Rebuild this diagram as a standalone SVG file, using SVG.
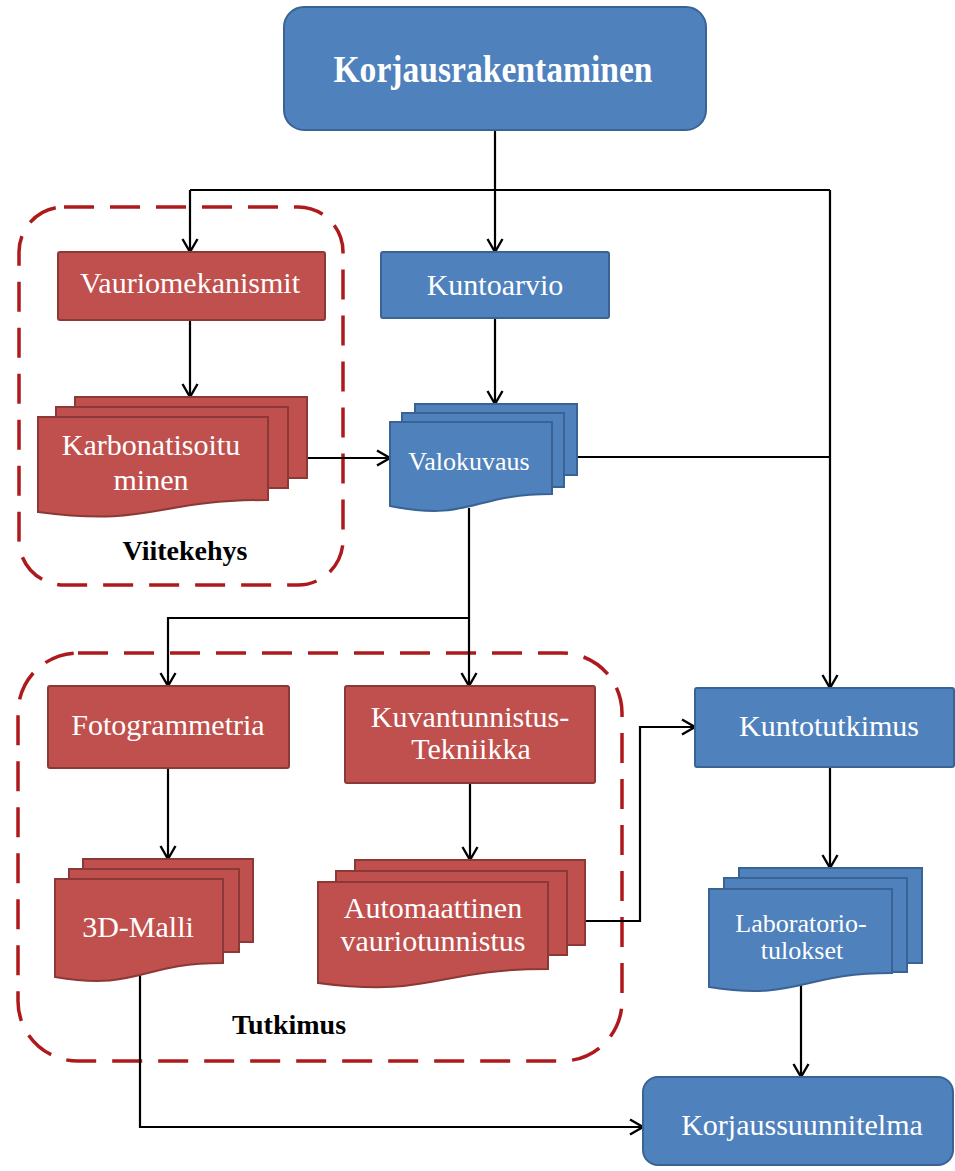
<svg xmlns="http://www.w3.org/2000/svg" width="955" height="1171" viewBox="0 0 955 1171">
<defs>
<style>
.blue{fill:#4F81BD;stroke:#3A6395;stroke-width:2}
.red{fill:#C0504D;stroke:#8C3836;stroke-width:2}
.frame{fill:none;stroke:#AE1A1C;stroke-width:3.5;stroke-dasharray:30 16}
.t{font-family:"Liberation Serif","Times New Roman",serif;fill:#FFFFFF;text-anchor:middle;font-size:30px}
.s{font-size:26px}
.lbl{font-family:"Liberation Serif","Times New Roman",serif;fill:#000;font-weight:bold;text-anchor:middle;font-size:28px}
.c{fill:none;stroke:#000;stroke-width:2.2}
</style>
<marker id="arr" markerWidth="16" markerHeight="18" refX="14" refY="9" orient="auto" markerUnits="userSpaceOnUse">
<path d="M1,1.5 L14,9 L1,16.5" fill="none" stroke="#000" stroke-width="2.4"/>
</marker>
</defs>
<rect width="955" height="1171" fill="#FFFFFF"/>

<g id="frame-viitekehys">
<rect class="frame" x="19" y="207" width="324" height="378" rx="45"/>
<text class="lbl" x="185" y="560">Viitekehys</text>
</g>
<g id="frame-tutkimus">
<rect class="frame" x="18" y="653" width="604" height="408" rx="60"/>
<text class="lbl" x="289" y="1034">Tutkimus</text>
</g>

<g id="connectors">
<path class="c" d="M495,130 V252" marker-end="url(#arr)"/>
<path class="c" d="M190,190 H830"/>
<path class="c" d="M190,190 V252" marker-end="url(#arr)"/>
<path class="c" d="M830,190 V688" marker-end="url(#arr)"/>
<path class="c" d="M190,320 V397" marker-end="url(#arr)"/>
<path class="c" d="M495,318 V404" marker-end="url(#arr)"/>
<path class="c" d="M307,458 H390" marker-end="url(#arr)"/>
<path class="c" d="M577,457 H830"/>
<path class="c" d="M469,508 V686" marker-end="url(#arr)"/>
<path class="c" d="M469,618 H168 V686" marker-end="url(#arr)"/>
<path class="c" d="M168,768 V859" marker-end="url(#arr)"/>
<path class="c" d="M470,783 V860" marker-end="url(#arr)"/>
<path class="c" d="M585,921 H640 V727 H695" marker-end="url(#arr)"/>
<path class="c" d="M830,767 V868" marker-end="url(#arr)"/>
<path class="c" d="M801,985 V1077" marker-end="url(#arr)"/>
<path class="c" d="M140,970 V1127 H643" marker-end="url(#arr)"/>
</g>

<g id="korjausrakentaminen">
<rect class="blue" x="284" y="7" width="422" height="123" rx="20"/>
<text class="t" x="493" y="82" style="font-weight:bold;font-size:37px" textLength="319" lengthAdjust="spacingAndGlyphs">Korjausrakentaminen</text>
</g>

<g id="vauriomekanismit">
<rect class="red" x="58" y="252" width="267" height="68" rx="2"/>
<text class="t" x="190" y="293">Vauriomekanismit</text>
</g>

<g id="kuntoarvio">
<rect class="blue" x="381" y="252" width="228" height="66" rx="2"/>
<text class="t" x="495" y="295">Kuntoarvio</text>
</g>

<g id="karbonatisoituminen">
<rect class="red" x="75" y="397" width="232" height="81"/>
<rect class="red" x="56" y="407" width="232" height="81"/>
<path class="red" d="M38,417 H268 V500 C153,500 153,527 38,512 Z"/>
<text class="t" x="151" y="455">Karbonatisoitu</text>
<text class="t" x="151" y="490">minen</text>
</g>

<g id="valokuvaus">
<rect class="blue" x="415" y="404" width="162" height="71"/>
<rect class="blue" x="402" y="413" width="162" height="74"/>
<path class="blue" d="M390,422 H552 V494 C471,494 471,522 390,506 Z"/>
<text class="t s" x="469" y="470">Valokuvaus</text>
</g>

<g id="fotogrammetria">
<rect class="red" x="48" y="686" width="241" height="82" rx="2"/>
<text class="t" x="168" y="735">Fotogrammetria</text>
</g>

<g id="kuvantunnistus">
<rect class="red" x="345" y="686" width="250" height="97" rx="2"/>
<text class="t" x="470" y="727">Kuvantunnistus-</text>
<text class="t" x="471" y="759">Tekniikka</text>
</g>

<g id="malli3d">
<rect class="red" x="83" y="859" width="170" height="83"/>
<rect class="red" x="69" y="869" width="170" height="83"/>
<path class="red" d="M55,879 H223 V963 C139,963 139,991 55,977 Z"/>
<text class="t" x="138" y="937">3D-Malli</text>
</g>

<g id="automaattinen">
<rect class="red" x="355" y="860" width="230" height="85"/>
<rect class="red" x="336" y="871" width="231" height="84"/>
<path class="red" d="M318,882 H548 V969 C433,969 433,998 318,983 Z"/>
<text class="t" x="433" y="918">Automaattinen</text>
<text class="t" x="433" y="951">vauriotunnistus</text>
</g>

<g id="kuntotutkimus">
<rect class="blue" x="695" y="688" width="259" height="79" rx="2"/>
<text class="t" x="829" y="736">Kuntotutkimus</text>
</g>

<g id="laboratoriotulokset">
<rect class="blue" x="739" y="868" width="183" height="95"/>
<rect class="blue" x="724" y="878" width="183" height="94"/>
<path class="blue" d="M709,889 H892 V973 C800,973 800,1001 709,987 Z"/>
<text class="t s" x="801" y="932">Laboratorio-</text>
<text class="t s" x="802" y="959">tulokset</text>
</g>

<g id="korjaussuunnitelma">
<rect class="blue" x="643" y="1077" width="310" height="88" rx="15"/>
<text class="t" x="802" y="1135">Korjaussuunnitelma</text>
</g>
</svg>
